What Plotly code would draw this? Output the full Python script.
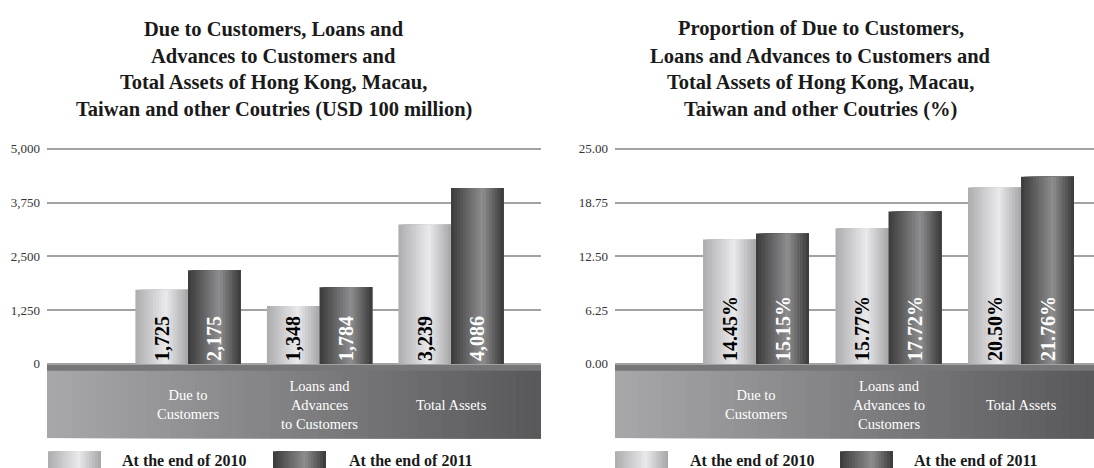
import plotly.graph_objs as go

# data
categories_left = ['Due to<br>Customers', 'Loans and<br>Advances<br>to Customers', 'Total Assets']
categories_right = ['Due to<br>Customers', 'Loans and<br>Advances to<br>Customers', 'Total Assets']
series_names = ['At the end of 2010', 'At the end of 2011']
amount_2010 = [1725, 1348, 3239]
amount_2011 = [2175, 1784, 4086]
share_2010 = [14.45, 15.77, 20.50]
share_2011 = [15.15, 17.72, 21.76]
left_ticks = [0, 1250, 2500, 3750, 5000]
right_ticks = [0, 6.25, 12.5, 18.75, 25]
title_left = ['Due to Customers, Loans and', 'Advances to Customers and',
              'Total Assets of Hong Kong, Macau,', 'Taiwan and other Coutries (USD 100 million)']
title_right = ['Proportion of Due to Customers,', 'Loans and Advances to Customers and',
               'Total Assets of Hong Kong, Macau,', 'Taiwan and other Coutries (%)']

W, H = 1094, 468
FONT = 'Liberation Serif, Times New Roman, serif'

# gradient stops (position, grey level)
light_stops = [(0, (172, 172, 174)), (0.58, (234, 234, 236)), (1, (166, 166, 168))]
dark_stops = [(0, (58, 58, 58)), (0.6, (142, 142, 144)), (1, (56, 56, 56))]
floor_stops = [(0, (168, 168, 170)), (1, (88, 88, 90))]
NSLICE = 18


def grad(stops, t):
    for (p0, c0), (p1, c1) in zip(stops[:-1], stops[1:]):
        if t <= p1:
            f = (t - p0) / (p1 - p0) if p1 > p0 else 0
            return 'rgb(%d,%d,%d)' % tuple(round(a + (b - a) * f) for a, b in zip(c0, c1))
    return 'rgb(%d,%d,%d)' % stops[-1][1]


def px_x(v):
    return v / W


def px_y(v):
    return 1 - v / H


fig = go.Figure()
annotations = []
shapes = []

panels = [
    dict(xa='x', ya='y', dom=[47 / W, 541 / W], cats=categories_left, vals=[amount_2010, amount_2011],
         fmt=lambda v: f'{v:,}', ticks=left_ticks, tickfmt=',d', top=5000,
         xr=[1 - 141 / 131.5, 3 + 90 / 131.5], bw=0.40, title=title_left, tx=0.25),
    dict(xa='x2', ya='y2', dom=[615 / W, 1.0], cats=categories_right, vals=[share_2010, share_2011],
         fmt=lambda v: f'{v:.2f}%', ticks=right_ticks, tickfmt='.2f', top=25,
         xr=[1 - 141 / 132.5, 3 + 73 / 132.5], bw=0.40, title=title_right, tx=0.75),
]

plot_top, zero_px, floor_bottom = 146, 363, 438
pad_px = 3  # a little room above the top gridline so it is not clipped

for p in panels:
    top = p['top']
    unit = top / (zero_px - plot_top)
    ymin = -(floor_bottom - zero_px) * unit
    p['yr'] = [ymin, top + pad_px * unit]
    xs = [1, 2, 3]
    bw = p['bw']
    for si, (vals, stops, tcol) in enumerate(zip(p['vals'], [light_stops, dark_stops], ['black', 'white'])):
        base = -bw if si == 0 else 0
        for k in range(NSLICE):
            fig.add_trace(go.Bar(
                x=xs, y=vals, xaxis=p['xa'], yaxis=p['ya'],
                offset=base + k * bw / NSLICE, width=bw - k * bw / NSLICE,
                marker=dict(color=grad(stops, (k + 0.5) / NSLICE), line=dict(width=0)),
                showlegend=False, hoverinfo='skip'))
        fig.add_trace(go.Bar(
            x=xs, y=vals, xaxis=p['xa'], yaxis=p['ya'], offset=base, width=bw,
            marker=dict(color='rgba(0,0,0,0)', line=dict(width=0)),
            text=[p['fmt'](v) for v in vals], textposition='inside', insidetextanchor='start',
            textangle=-90, textfont=dict(family=FONT, size=20, color=tcol, weight='bold'),
            name=series_names[si], showlegend=False, hoverinfo='name+y'))

    # floor panel
    nf = 60
    for k in range(nf):
        shapes.append(dict(type='rect', xref=p['xa'] + ' domain', yref=p['ya'],
                           x0=k / nf, x1=1, y0=ymin, y1=0, layer='below', line=dict(width=0),
                           fillcolor=grad(floor_stops, (k + 0.5) / nf)))
    shapes.append(dict(type='rect', xref=p['xa'] + ' domain', yref=p['ya'], x0=0, x1=1,
                       y0=-(370 - zero_px) * unit, y1=top * 0.004, layer='below',
                       line=dict(width=0), fillcolor='#767678'))

    # category labels
    for i, c in enumerate(p['cats']):
        annotations.append(dict(x=xs[i], y=px_y(404), xref=p['xa'], yref='paper', text=c,
                                showarrow=False, font=dict(family=FONT, size=14.5, color='white'),
                                align='center', xanchor='center', yanchor='middle'))
    # titles
    for li, line in enumerate(p['title']):
        annotations.append(dict(x=p['tx'], y=px_y(25 + li * 27), xref='paper', yref='paper',
                                text='<b>' + line + '</b>', showarrow=False,
                                xanchor='center', yanchor='middle',
                                font=dict(family=FONT, size=20.5, color='#1a1a1a')))

# legend swatches and labels
legend_items = [(48, 120, 0), (273, 347, 1), (615, 688, 0), (840, 912, 1)]
for sx, tx, si in legend_items:
    stops = light_stops if si == 0 else dark_stops
    for k in range(NSLICE):
        shapes.append(dict(type='rect', xref='paper', yref='paper',
                           x0=px_x(sx + k * 53 / NSLICE), x1=px_x(sx + 53), y0=px_y(472), y1=px_y(451),
                           line=dict(width=0), fillcolor=grad(stops, (k + 0.5) / NSLICE)))
    annotations.append(dict(x=px_x(tx), y=px_y(460), xref='paper', yref='paper', xanchor='left',
                            yanchor='middle', text='<b>' + series_names[si] + '</b>', showarrow=False,
                            font=dict(family=FONT, size=16, color='#1a1a1a')))

layout_axes = {}
for i, p in enumerate(panels):
    sfx = '' if i == 0 else '2'
    layout_axes['xaxis' + sfx] = dict(domain=p['dom'], range=p['xr'], anchor='y' + sfx,
                                      showgrid=False, zeroline=False, showticklabels=False,
                                      showline=False, fixedrange=True)
    layout_axes['yaxis' + sfx] = dict(domain=[px_y(floor_bottom), px_y(plot_top - pad_px)], range=p['yr'],
                                      anchor='x' + sfx, tickvals=p['ticks'], tickformat=p['tickfmt'],
                                      showgrid=True, gridcolor='#a2a2a2', gridwidth=1.6, zeroline=False,
                                      showline=False, ticklabelstandoff=6,
                                      tickfont=dict(family=FONT, size=13, color='#333333'),
                                      fixedrange=True)

fig.update_layout(
    width=W, height=H, margin=dict(l=0, r=0, t=0, b=0),
    paper_bgcolor='white', plot_bgcolor='white', barmode='overlay',
    annotations=annotations, shapes=shapes, showlegend=False,
    **layout_axes
)

# page body has a default 8px margin; drop it so the figure fills the window
fig.write_html('out.html', config=dict(displayModeBar=False),
               post_script="document.body.style.margin='0';document.body.style.overflow='hidden';")
